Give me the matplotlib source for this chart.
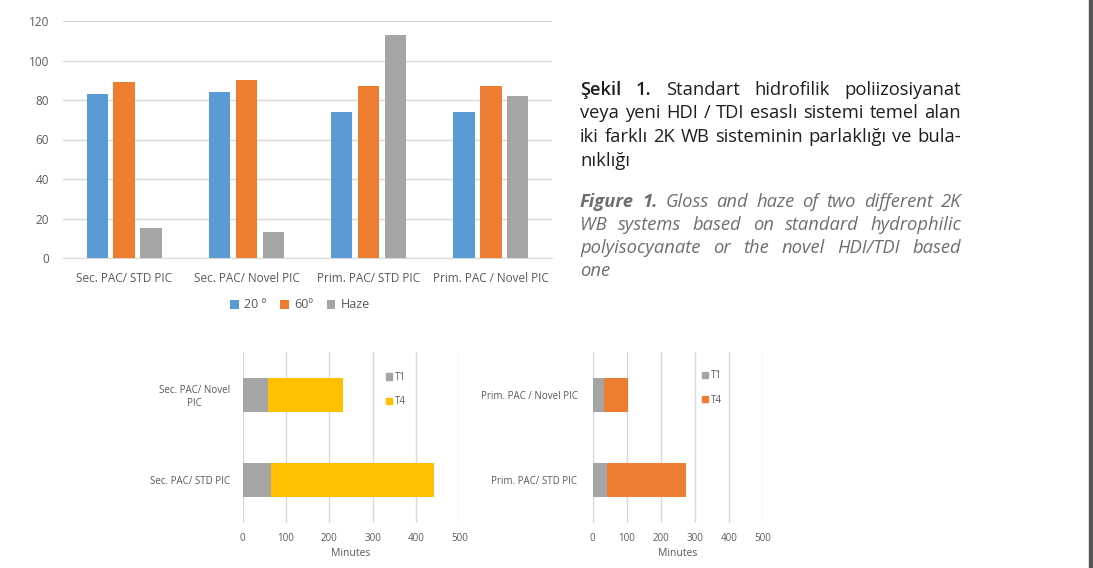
import matplotlib
matplotlib.use("Agg")
import matplotlib.pyplot as plt
from matplotlib.patches import Rectangle, Patch
import numpy as np

plt.rcParams['font.family'] = ['Open Sans', 'DejaVu Sans']

# ---- data ----
gloss_cats = ["Sec. PAC/ STD PIC", "Sec. PAC/ Novel PIC", "Prim. PAC/ STD PIC", "Prim. PAC / Novel PIC"]
gloss_20 = [83, 84, 74, 74]
gloss_60 = [89, 90, 87, 87]
haze = [15, 13, 113, 82]
gloss_labels = ["20 º", "60º", "Haze"]

sec_cats = ["Sec. PAC/ STD PIC", "Sec. PAC/ Novel\nPIC"]
sec_t1 = [65, 59]
sec_t4 = [376, 172]

prim_cats = ["Prim. PAC/ STD PIC", "Prim. PAC / Novel PIC"]
prim_t1 = [41, 34]
prim_t4 = [232, 70]

minute_ticks = [0, 100, 200, 300, 400, 500]

BLUE = "#5B9BD5"
ORANGE = "#ED7D31"
GRAY = "#A5A5A5"
YELLOW = "#FFC000"
GRID = "#D9D9D9"
TXT = "#595959"

W, H = 1093, 568
fig = plt.figure(figsize=(W / 100, H / 100), dpi=100)


def fx(px):
    return px / W


def fy(py):
    return 1 - py / H


# ---- top chart: gloss and haze ----
ax = fig.add_axes([fx(63), fy(258), fx(552) - fx(63), fy(21) - fy(258)])
x = np.arange(len(gloss_cats))
bw = 0.175
ax.bar(x - 0.22, gloss_20, bw, color=BLUE, label=gloss_labels[0], zorder=3)
ax.bar(x, gloss_60, bw, color=ORANGE, label=gloss_labels[1], zorder=3)
ax.bar(x + 0.22, haze, bw, color=GRAY, label=gloss_labels[2], zorder=3)
ax.set_xlim(-0.5, len(gloss_cats) - 0.5)
ax.set_ylim(0, 120)
ax.set_yticks(range(0, 121, 20))
ax.set_xticks(x)
ax.set_xticklabels(gloss_cats)
ax.yaxis.grid(True, color=GRID, lw=1, zorder=0)
for s in ["top", "right", "left"]:
    ax.spines[s].set_visible(False)
ax.spines["bottom"].set_color(GRID)
ax.tick_params(axis="both", length=0, colors=TXT, labelsize=8.5)
ax.tick_params(axis="x", pad=10)
ax.tick_params(axis="y", pad=10)
ax.legend(loc="center", bbox_to_anchor=((300 - 63) / 489, (258 - 305) / 237),
          ncol=3, frameon=False, fontsize=9, handlelength=0.7, handleheight=0.7,
          handletextpad=0.4, columnspacing=1.1, labelcolor=TXT)


# ---- bottom charts: drying times ----
def time_chart(left, right, cats, t1, t4, t4_color, leg_x, ypad):
    a = fig.add_axes([fx(left), fy(523), fx(right) - fx(left), fy(352) - fy(523)])
    y = np.arange(len(cats))
    a.barh(y, t1, 0.4, color=GRAY, zorder=3)
    a.barh(y, t4, 0.4, left=t1, color=t4_color, zorder=3)
    a.set_xlim(0, 500)
    a.set_ylim(-0.5, len(cats) - 0.5)
    a.set_xticks(minute_ticks)
    a.set_yticks(y)
    a.set_yticklabels(cats, multialignment="center")
    a.xaxis.grid(True, color=GRID, lw=1, zorder=0)
    for s in a.spines.values():
        s.set_visible(False)
    a.tick_params(axis="both", length=0, colors=TXT, labelsize=7)
    a.tick_params(axis="x", pad=7)
    a.tick_params(axis="y", pad=ypad)
    a.set_xlabel("Minutes", fontsize=7.5, color=TXT, labelpad=3)
    handles = [Patch(color=GRAY), Patch(color=t4_color)]
    a.legend(handles, ["T1", "T4"], loc="upper left", bbox_to_anchor=leg_x,
             frameon=False, fontsize=7, handlelength=0.6, handleheight=0.6,
             handletextpad=0.3, labelspacing=1.4, labelcolor=TXT)
    return a


time_chart(242.7, 459.3, sec_cats, sec_t1, sec_t4, YELLOW, (0.62, 0.935), 9)
time_chart(592.7, 762.7, prim_cats, prim_t1, prim_t4, ORANGE, (0.59, 0.945), 11)

# ---- caption (justified lines) ----
renderer = fig.canvas.get_renderer()
X0, X1 = 580, 961
DARK = "#1E1E1E"
ENG = "#6E6E6E"


def draw_line(words, y_px, justify=True, size=13.2):
    arts = []
    for w, kw in words:
        t = fig.text(0, fy(y_px), w, fontsize=size, va="baseline", ha="left", **kw)
        arts.append(t)
    widths = [t.get_window_extent(renderer).width for t in arts]
    if justify and len(arts) > 1:
        gap = (X1 - X0 - sum(widths)) / (len(arts) - 1)
    else:
        gap = 4
    xp = X0
    for t, wd in zip(arts, widths):
        t.set_x(fx(xp))
        xp += wd + gap


bold_tr = dict(color=DARK, fontweight="semibold")
reg_tr = dict(color=DARK)
bold_en = dict(color=ENG, fontweight="bold", style="italic")
reg_en = dict(color=ENG, style="italic")

tr_lines = [
    ([("Şekil", bold_tr), ("1.", bold_tr)] +
     [(w, reg_tr) for w in "Standart hidrofilik poliizosiyanat".split()], True),
    ([(w, reg_tr) for w in "veya yeni HDI / TDI esaslı sistemi temel alan".split()], True),
    ([(w, reg_tr) for w in "iki farklı 2K WB sisteminin parlaklığı ve bula-".split()], True),
    ([("nıklığı", reg_tr)], False),
]
for i, (ws, j) in enumerate(tr_lines):
    draw_line(ws, 95 + 23.5 * i, j)

en_lines = [
    ([("Figure", bold_en), ("1.", bold_en)] +
     [(w, reg_en) for w in "Gloss and haze of two different 2K".split()], True),
    ([(w, reg_en) for w in "WB systems based on standard hydrophilic".split()], True),
    ([(w, reg_en) for w in "polyisocyanate or the novel HDI/TDI based".split()], True),
    ([("one", reg_en)], False),
]
for i, (ws, j) in enumerate(en_lines):
    draw_line(ws, 207 + 23 * i, j)

# dark strip at right edge
fig.add_artist(Rectangle((fx(1089), 0), fx(4), 1, transform=fig.transFigure,
                         color="#555555", zorder=10))

fig.savefig("out.png", dpi=100)
